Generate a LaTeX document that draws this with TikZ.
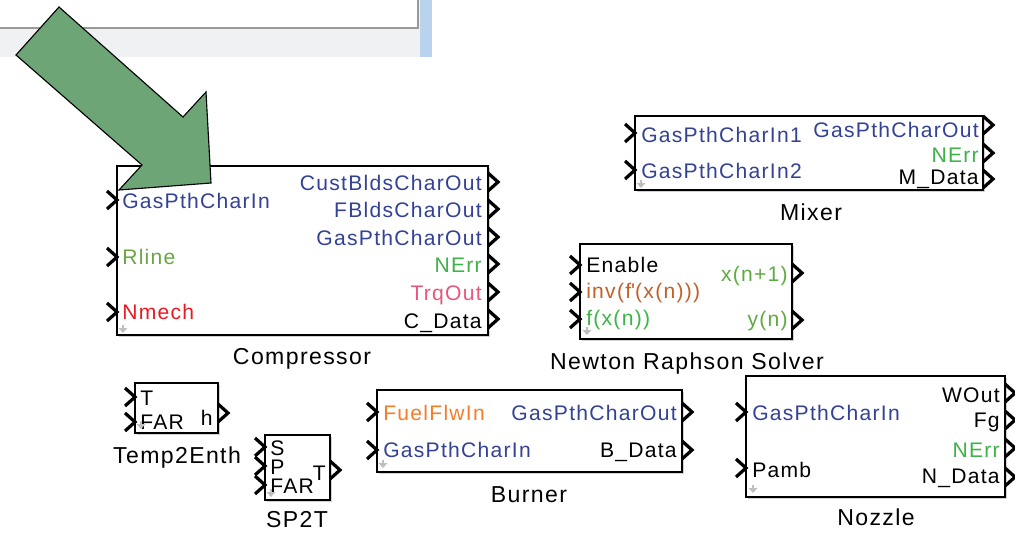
\documentclass[tikz,border=0pt]{standalone}
\usepackage{fontspec}
\setmainfont{Liberation Sans}[LetterSpace=6]
\usetikzlibrary{fit,shadows,arrows.meta}

\definecolor{gpblue}{RGB}{52,66,150}
\definecolor{errgreen}{RGB}{63,178,73}
\definecolor{rlgreen}{RGB}{108,165,70}
\definecolor{nmred}{RGB}{235,25,35}
\definecolor{trqpink}{RGB}{235,85,125}
\definecolor{invbrown}{RGB}{195,95,40}
\definecolor{xgreen}{RGB}{95,170,65}
\definecolor{fxgreen}{RGB}{60,180,70}
\definecolor{fuelorange}{RGB}{245,125,40}
\definecolor{bigarrow}{RGB}{110,165,118}
\definecolor{wingray}{RGB}{240,241,243}
\definecolor{winblue}{RGB}{185,210,238}

\tikzset{
  blk/.style={draw, line width=0.9pt, fill=white, inner sep=0pt,
    drop shadow={shadow xshift=1.2pt, shadow yshift=-1.2pt, fill=black!35}},
  inl/.style={anchor=base west, inner sep=0pt, font=\fontsize{15}{17}\selectfont},
  outl/.style={anchor=base east, inner sep=0pt, font=\fontsize{15}{17}\selectfont},
  bname/.style={anchor=base, inner sep=0pt, font=\fontsize{16.4}{19}\selectfont},
  dnmark/.style={draw=black!25, line width=1.8pt, -{Triangle[width=6pt,length=3.5pt]}},
  inport/.pic={\draw[line width=2.3pt] (-10,-9) -- (0,0) -- (-10,9);},
  outport/.pic={\draw[line width=2.3pt] (0,-9) -- (10,0) -- (0,9);}
}

\begin{document}
\begin{tikzpicture}[x=0.025cm, y=-0.025cm]
\useasboundingbox (0,0) rectangle (1015,533);

% window in the background
\fill[winblue] (420,0) rectangle (432,57); \fill[wingray] (0,0) rectangle (420,57);
\draw[black!40, line width=0.8pt, fill=white] (-5,-5) rectangle (418,28);

% Compressor
\node[blk, fit={(117,166) (488,335)}] (comp) {};
\foreach \y in {200,257,312} \pic at (117,\y) {inport};
\foreach \y in {182,209,237,264,292,319} \pic at (488,\y) {outport};
\node[inl, gpblue] (cgasin) at (122,208) {GasPthCharIn};
\node[inl, rlgreen] (crline) at (122,264) {Rline};
\node[inl, nmred] (cnmech) at (122,319) {Nmech};
\node[outl, gpblue] (ccust) at (482,190) {CustBldsCharOut};
\node[outl, gpblue] (cfb) at (482,217) {FBldsCharOut};
\node[outl, gpblue] (cgasout) at (482,245) {GasPthCharOut};
\node[outl, errgreen] (cnerr) at (482,272) {NErr};
\node[outl, trqpink] (ctrq) at (482,300) {TrqOut};
\node[outl] (cdata) at (482,328) {C\_Data};
\draw[dnmark] (123,325) -- (123,333);
\node[bname] (compname) at (302,364) {Compressor};

% big arrow
\draw[fill=bigarrow, line width=0.8pt, line join=miter] (16,55) -- (59,7) -- (183,117) -- (206,92) -- (211,183) -- (119,190) -- (142,165) -- cycle;

% Mixer
\node[blk, fit={(635,116) (983,190)}] (mix) {};
\foreach \y in {133,170} \pic at (635,\y) {inport};
\foreach \y in {125,153,179} \pic at (983,\y) {outport};
\node[inl, gpblue] (mgas1) at (641,142) {GasPthCharIn1};
\node[inl, gpblue] (mgas2) at (641,178) {GasPthCharIn2};
\node[outl, gpblue] (mgasout) at (979,137) {GasPthCharOut};
\node[outl, errgreen] (mnerr) at (979,162) {NErr};
\node[outl] (mdata) at (979,184) {M\_Data};
\draw[dnmark] (641,180) -- (641,188);
\node[bname] (mixname) at (811,220) {Mixer};

% Newton Raphson Solver
\node[blk, fit={(580,244) (792,339)}] (nrs) {};
\foreach \y in {265,292,319} \pic at (580,\y) {inport};
\foreach \y in {273,320} \pic at (792,\y) {outport};
\node[inl] (nenable) at (586,272) {Enable};
\node[inl, invbrown] (ninv) at (586,298) {inv(f\textquotesingle(x(n)))};
\node[inl, fxgreen] (nfx) at (586,325) {f(x(n))};
\node[outl, xgreen] (nxn) at (788,281) {x(n+1)};
\node[outl, xgreen] (nyn) at (788,326) {y(n)};
\draw[dnmark] (587,327) -- (587,335);
\node[bname] (nrsname) at (687,369) {Newton Raphson Solver};

% Temp2Enth
\node[blk, fit={(135,383) (218,433)}] (t2e) {};
\foreach \y in {397,422} \pic at (135,\y) {inport};
\pic at (218,413) {outport};
\node[inl] (tt) at (140,405) {T};
\node[inl] (tfar) at (140,429) {FAR};
\node[outl] (th) at (213,425) {h};
\draw[dnmark] (141,421) -- (141,429);
\node[bname] (t2ename) at (177,463) {Temp2Enth};

% SP2T
\node[blk, fit={(265,435) (330,500)}] (sp2t) {};
\foreach \y in {447,466,485} \pic at (265,\y) {inport};
\pic at (330,470) {outport};
\node[inl] (ss) at (270,455) {S};
\node[inl] (sp) at (270,474) {P};
\node[inl] (sfar) at (270,493) {FAR};
\node[outl] (st) at (326,480) {T};
\draw[dnmark] (271,489) -- (271,497);
\node[bname] (sp2tname) at (297,527) {SP2T};

% Burner
\node[blk, fit={(377,390) (682,472)}] (burn) {};
\foreach \y in {412,450} \pic at (377,\y) {inport};
\foreach \y in {412,450} \pic at (682,\y) {outport};
\node[inl, fuelorange] (bfuel) at (383,420) {FuelFlwIn};
\node[inl, gpblue] (bgasin) at (383,457) {GasPthCharIn};
\node[outl, gpblue] (bgasout) at (677,420) {GasPthCharOut};
\node[outl] (bdata) at (677,457) {B\_Data};
\draw[dnmark] (383,460) -- (383,468);
\node[bname] (burnname) at (529,502) {Burner};

% Nozzle
\node[blk, fit={(746,376) (1005,497)}] (noz) {};
\foreach \y in {412,468} \pic at (746,\y) {inport};
\foreach \y in {393,420,448,477} \pic at (1005,\y) {outport};
\node[inl, gpblue] (zgasin) at (752,420) {GasPthCharIn};
\node[inl] (zpamb) at (752,477) {Pamb};
\node[outl] (zwout) at (1000,402) {WOut};
\node[outl] (zfg) at (1000,427) {Fg};
\node[outl, errgreen] (znerr) at (1000,457) {NErr};
\node[outl] (zdata) at (1000,483) {N\_Data};
\draw[dnmark] (753,485) -- (753,493);
\node[bname] (nozname) at (876,525) {Nozzle};
\end{tikzpicture}
\end{document}
